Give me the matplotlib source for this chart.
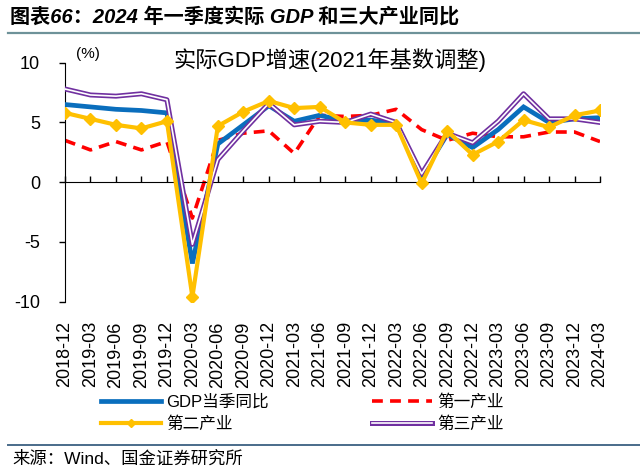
import matplotlib
matplotlib.use('Agg')
import matplotlib.pyplot as plt
import matplotlib.patheffects as pe
from matplotlib.lines import Line2D

plt.rcParams['font.family'] = ['Liberation Sans', 'Noto Sans CJK SC']
plt.rcParams['axes.unicode_minus'] = False

# quarterly data, %
dates = ['2018-12', '2019-03', '2019-06', '2019-09', '2019-12', '2020-03',
         '2020-06', '2020-09', '2020-12', '2021-03', '2021-06', '2021-09',
         '2021-12', '2022-03', '2022-06', '2022-09', '2022-12', '2023-03',
         '2023-06', '2023-09', '2023-12', '2024-03']
gdp = [6.5, 6.3, 6.1, 6.0, 5.8, -6.8, 3.2, 4.8, 6.4, 5.1, 5.6, 5.1,
       5.2, 4.9, 0.5, 4.0, 2.9, 4.4, 6.3, 5.0, 5.3, 5.4]
primary = [3.5, 2.7, 3.4, 2.7, 3.4, -3.0, 3.5, 4.1, 4.3, 2.4, 5.6, 5.5,
           5.6, 6.1, 4.4, 3.5, 4.1, 3.8, 3.8, 4.2, 4.2, 3.4]
secondary = [5.8, 5.3, 4.8, 4.5, 5.1, -9.6, 4.7, 5.9, 6.8, 6.2, 6.3, 5.0,
             4.8, 4.8, -0.1, 4.3, 2.3, 3.4, 5.2, 4.6, 5.6, 6.0]
tertiary = [7.8, 7.3, 7.2, 7.4, 6.9, -5.2, 1.9, 4.3, 6.6, 4.8, 5.1, 5.0,
            5.7, 5.0, 0.7, 4.1, 3.3, 5.1, 7.4, 5.3, 5.3, 5.0]

x = list(range(len(dates)))

W, H = 640, 475
fig = plt.figure(figsize=(W / 100, H / 100), dpi=100)
ax = fig.add_axes([65 / W, (H - 301.7) / H, 535 / W, (301.7 - 62.7) / H])

l_gdp, = ax.plot(x, gdp, color='#0A6EBD', lw=3.4, solid_joinstyle='miter',
                 label='GDP当季同比', zorder=3)
l_pri, = ax.plot(x, primary, color='#FF0000', lw=2.6, dashes=(3, 2),
                 label='第一产业', zorder=2)
l_ter, = ax.plot(x, tertiary, color='white', lw=1.2, label='第三产业', zorder=4,
                 path_effects=[pe.Stroke(linewidth=3.6, foreground='#7030A0'),
                               pe.Normal()])
l_sec, = ax.plot(x, secondary, color='#FFC000', lw=3.0, marker='D',
                 markersize=6.5, label='第二产业', zorder=5)

ax.set_xlim(0, len(dates) - 1)
ax.set_ylim(-10, 10)
ax.set_yticks([-10, -5, 0, 5, 10])
ax.tick_params(axis='y', direction='out', length=4, width=1, pad=14,
               labelsize=13)

# zero line with inward ticks
ax.spines['bottom'].set_position(('data', 0))
ax.spines['top'].set_visible(False)
ax.spines['right'].set_visible(False)
ax.set_xticks(x)
ax.tick_params(axis='x', direction='in', length=4, width=1, labelbottom=False)

# date labels at bottom of plot
sec = ax.secondary_xaxis('bottom')
sec.set_xticks(x, labels=dates)
sec.spines['bottom'].set_visible(False)
sec.tick_params(axis='x', length=0, pad=14, labelsize=13, labelrotation=90)

# titles
fig.text(10 / W, 1 - 17 / H, '图表66：2024 年一季度实际 GDP 和三大产业同比',
         fontsize=14.5, fontweight='bold', style='italic', va='center')
fig.add_artist(Line2D([8 / W, 1], [1 - 33 / H] * 2, color='#6E9299', lw=1.6))
fig.text(330 / W, 1 - 60 / H, '实际GDP增速(2021年基数调整)', fontsize=16,
         ha='center', va='center')
fig.text(88 / W, 1 - 54 / H, '(%)', fontsize=11, ha='center', va='center')

handles = [l_gdp, l_sec, l_pri, l_ter]
fig.legend(handles, [h.get_label() for h in handles], ncol=2, loc='upper left',
           bbox_to_anchor=(93 / W, 1 - 386 / H), frameon=False, fontsize=12,
           handlelength=3.6, handletextpad=0.3, columnspacing=6.2,
           labelspacing=0.4, borderpad=0, markerscale=0.6)

fig.add_artist(Line2D([8 / W, 1], [1 - 445 / H] * 2, color='#4A6B8A', lw=1.4))
fig.text(12 / W, 1 - 459 / H, '来源：Wind、国金证券研究所', fontsize=12.5,
         va='center')

fig.savefig('out.png', dpi=100)
